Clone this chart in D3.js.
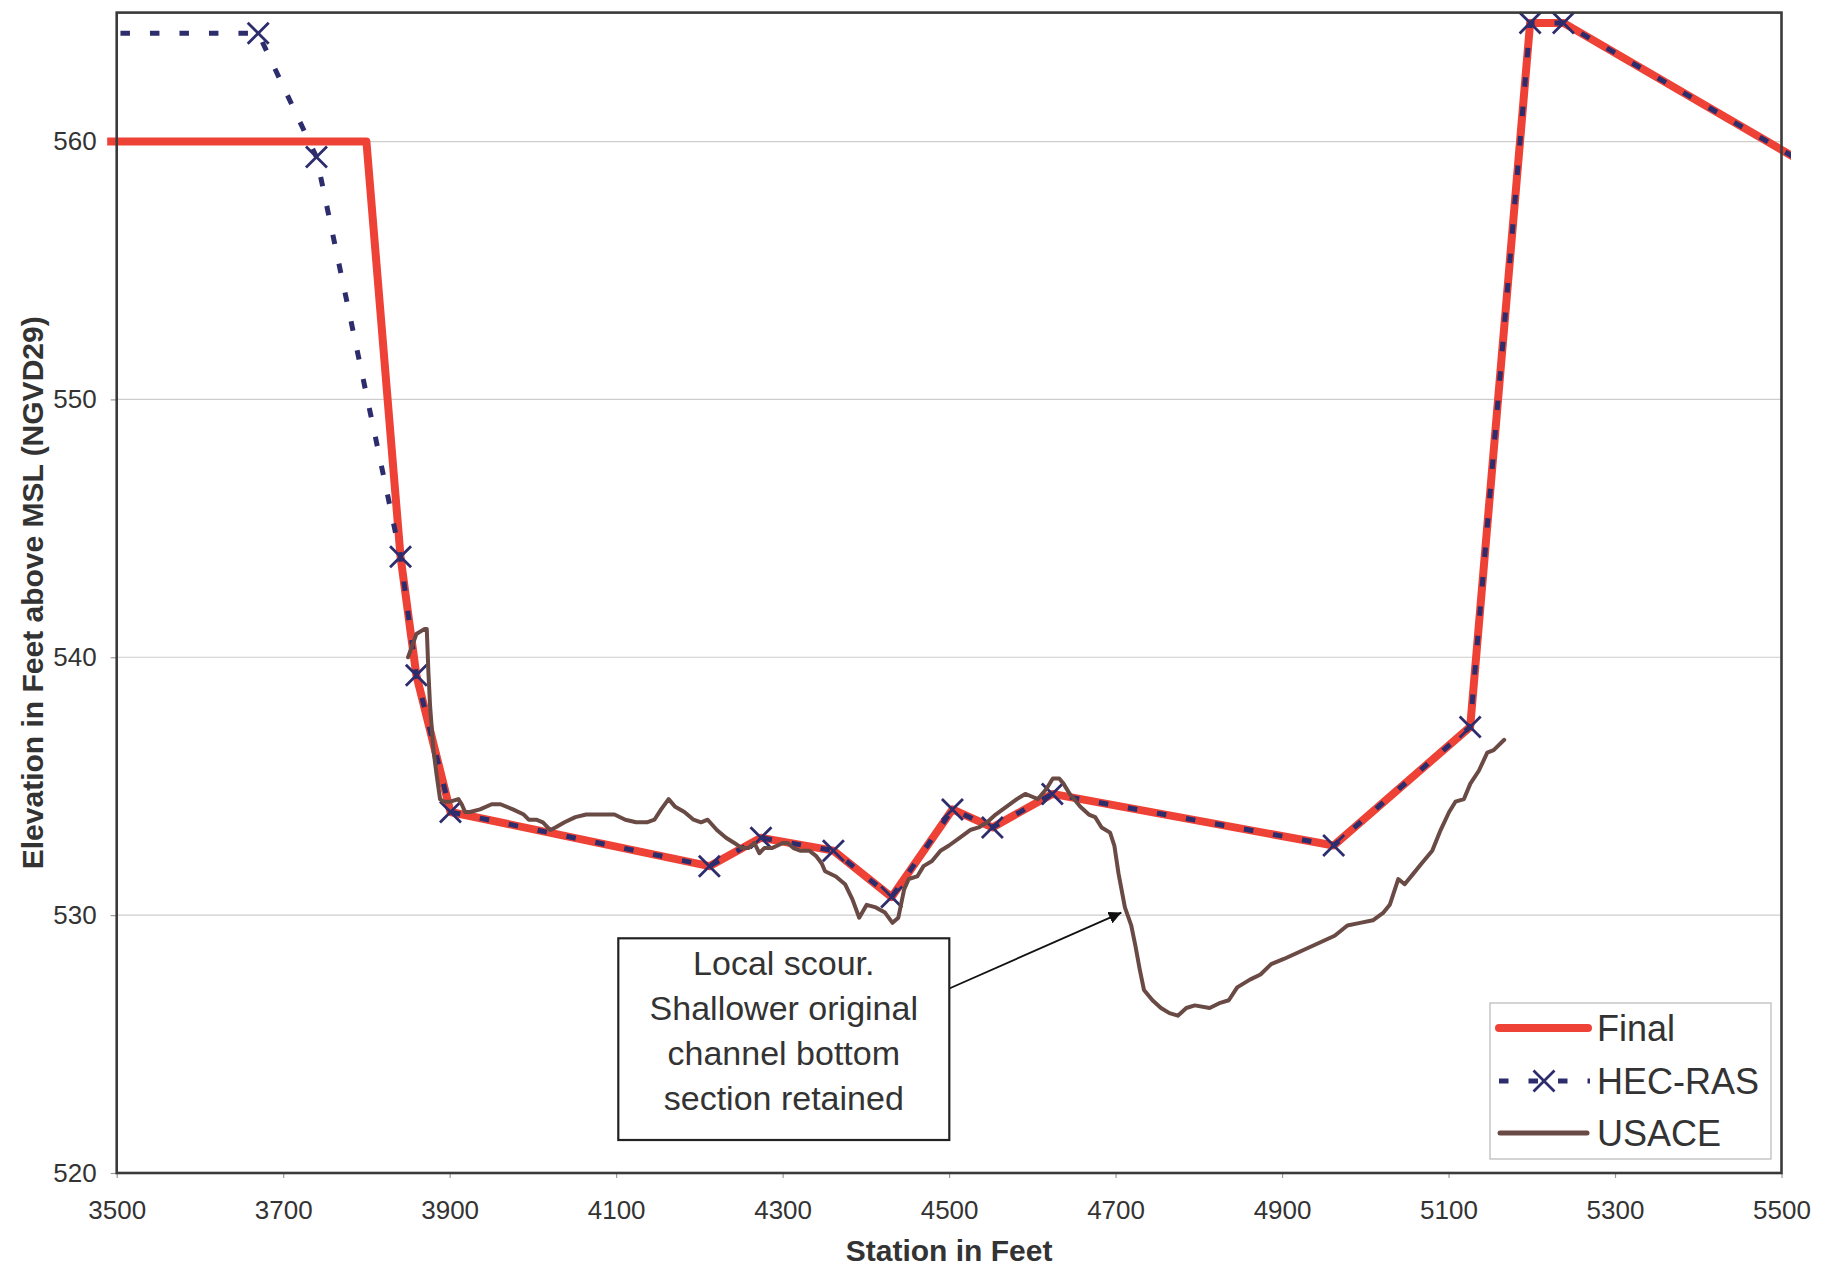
<!DOCTYPE html>
<html>
<head>
<meta charset="utf-8">
<script src="https://cdn.jsdelivr.net/npm/d3@7"></script>
<style>
  html, body { margin: 0; padding: 0; background: #ffffff; }
  svg { display: block; font-family: "Liberation Sans", Arial, sans-serif; }
</style>
</head>
<body>
<svg id="chart" width="1833" height="1266"></svg>
<script>
// ---------- DATA ----------
const xTicks = [3500, 3700, 3900, 4100, 4300, 4500, 4700, 4900, 5100, 5300, 5500];
const yTicks = [520, 530, 540, 550, 560];
const yGrid = [530, 540, 550, 560];

const seriesNames = ["Final", "HEC-RAS", "USACE"];

// HEC-RAS cross-section (station, elevation)
const hecStation = [3400, 3670, 3740, 3841, 3860, 3901, 4212, 4274, 4361, 4431, 4504, 4552, 4624, 4962, 5126, 5198, 5238, 5600];
const hecElev    = [564.2, 564.2, 559.4, 543.9, 539.3, 534.0, 531.9, 533.0, 532.5, 530.7, 534.1, 533.4, 534.7, 532.7, 537.3, 564.6, 564.6, 557.8];

// Final cross-section
const finalStation = [3400, 3800, 3841, 3860, 3901, 4212, 4274, 4361, 4431, 4504, 4552, 4624, 4962, 5126, 5198, 5238, 5600];
const finalElev    = [560.0, 560.0, 543.9, 539.3, 534.0, 531.9, 533.0, 532.5, 530.7, 534.1, 533.4, 534.7, 532.7, 537.3, 564.6, 564.6, 557.8];

// USACE survey
const usaceStation = [3850, 3860, 3870, 3872.5, 3874.5, 3876.5, 3880.5, 3884.5, 3888.5, 3892.5, 3900.5, 3910.5, 3914.5, 3918.5, 3924.5, 3936.5, 3950.5, 3961,
  3976, 3989, 3995, 4004, 4012, 4021, 4027, 4038, 4051, 4064, 4081, 4098, 4111, 4124, 4137, 4146, 4154, 4163, 4171, 4182, 4193, 4202, 4210,
  4221, 4232, 4242, 4251, 4259, 4266, 4272, 4278, 4287, 4294, 4300, 4306, 4313, 4321, 4332, 4340, 4347, 4351, 4364, 4375, 4384, 4392,
  4401, 4412, 4423, 4432, 4439, 4446, 4451.5, 4461.7, 4469.3, 4479.5, 4489.7, 4499.9, 4512.6, 4525.3, 4535.5, 4545.7, 4555.9, 4568.6,
  4581.4, 4591.5, 4599.2, 4606.8, 4617.0, 4624.6, 4632.3, 4637.4, 4645.0, 4650.1, 4657.7, 4667.9, 4675.5, 4683.2, 4693.4, 4698.5,
  4703.6, 4711.2, 4718.8, 4723.9, 4729.0, 4734.1, 4744.3, 4754.5, 4764.7, 4774.8, 4785.0, 4795.2, 4813.0, 4825.8, 4836.0, 4846.1,
  4861.4, 4874.1, 4886.9, 4902.1, 4922.5, 4942.9, 4963.2, 4978.5, 4993.8, 5009.1, 5021.8, 5029.4, 5039.6, 5047.3, 5057.5, 5067.6,
  5080.4, 5090.5, 5100.7, 5108.3, 5118.5, 5126.2, 5136.4, 5146.5, 5154.2, 5166.9];
const usaceElev = [540.0, 540.9, 541.1, 541.1, 539.4, 538.1, 536.4, 535.4, 534.5, 534.4, 534.4, 534.5, 534.3, 534.0, 534.0, 534.1, 534.3, 534.3,
  534.1, 533.9, 533.7, 533.7, 533.6, 533.3, 533.4, 533.6, 533.8, 533.9, 533.9, 533.9, 533.7, 533.6, 533.6, 533.7, 534.1, 534.5, 534.2, 534.0, 533.7, 533.6, 533.7,
  533.3, 533.0, 532.8, 532.6, 532.6, 532.8, 532.4, 532.6, 532.6, 532.7, 532.8, 532.8, 532.6, 532.5, 532.5, 532.3, 532.0, 531.7, 531.5, 531.2, 530.6, 529.9,
  530.4, 530.3, 530.1, 529.7, 529.9, 531.0, 531.4, 531.5, 531.9, 532.1, 532.5, 532.7, 533.0, 533.3, 533.4, 533.6, 533.9, 534.2,
  534.5, 534.7, 534.6, 534.5, 534.9, 535.3, 535.3, 535.1, 534.7, 534.5, 534.2, 533.9, 533.8, 533.4, 533.2, 532.7,
  531.6, 530.3, 529.6, 528.8, 527.9, 527.1, 526.7, 526.4, 526.2, 526.1, 526.4, 526.5, 526.4, 526.6, 526.7, 527.2,
  527.5, 527.7, 528.1, 528.3, 528.6, 528.9, 529.2, 529.6, 529.7, 529.8, 530.1, 530.4, 531.4, 531.2, 531.6, 532.0,
  532.5, 533.3, 534.0, 534.4, 534.5, 535.1, 535.6, 536.3, 536.4, 536.8];

const noteLines = ["Local scour.", "Shallower original", "channel bottom", "section retained"];
const notePoint = [4707, 530.1];   // arrow target (station, elevation)
const xTitle = "Station in Feet";
const yTitle = "Elevation in Feet above MSL (NGVD29)";

// ---------- STYLE ----------
const colFinal = "#ee4236";
const colHec = "#2d2d6e";
const colUsace = "#6a4a44";
const colText = "#333333";

// ---------- LAYOUT ----------
const svg = d3.select("#chart");
const pLeft = 116.7, pRight = 1781.5, pTop = 12.6, pBottom = 1173;

const x = d3.scaleLinear().domain([3500, 5500]).range([pLeft, pRight]);
const y = d3.scaleLinear().domain([520, 565]).range([pBottom, pTop]);

svg.append("rect").attr("width", 1833).attr("height", 1266).attr("fill", "#fff");

// gridlines
svg.append("g").selectAll("line").data(yGrid).join("line")
  .attr("x1", pLeft).attr("x2", pRight)
  .attr("y1", d => y(d)).attr("y2", d => y(d))
  .attr("stroke", "#cdcdcd").attr("stroke-width", 1.2);

// axes
const yAxis = d3.axisLeft(y).tickValues(yTicks).tickSize(6).tickPadding(14).tickFormat(d3.format("d"));
const gy = svg.append("g").attr("transform", `translate(${pLeft},0)`).call(yAxis);
gy.select(".domain").remove();
gy.selectAll(".tick line").attr("stroke", "#999").attr("stroke-width", 1.2);
gy.selectAll("text").attr("font-size", 26).attr("fill", colText)
  .attr("font-family", "'Liberation Sans', Arial, sans-serif");

const xAxis = d3.axisBottom(x).tickValues(xTicks).tickSize(5).tickPadding(23).tickFormat(d3.format("d"));
const gx = svg.append("g").attr("transform", `translate(0,${pBottom})`).call(xAxis);
gx.select(".domain").remove();
gx.selectAll(".tick line").attr("stroke", "#999").attr("stroke-width", 1.2);
gx.selectAll("text").attr("font-size", 26).attr("fill", colText)
  .attr("font-family", "'Liberation Sans', Arial, sans-serif");

// clip (lines spill slightly beyond the plot frame as in the reference)
svg.append("clipPath").attr("id", "clip").append("rect")
  .attr("x", pLeft - 9.5).attr("y", 0).attr("width", pRight - pLeft + 19).attr("height", pBottom);

const line = d3.line().x(d => x(d[0])).y(d => y(d[1]));
const finalData = finalStation.map((s, i) => [s, finalElev[i]]);
const hecData = hecStation.map((s, i) => [s, hecElev[i]]);
const usaceData = usaceStation.map((s, i) => [s, usaceElev[i]]);

const plot = svg.append("g").attr("clip-path", "url(#clip)");
plot.append("path").datum(finalData).attr("d", line)
  .attr("fill", "none").attr("stroke", colFinal).attr("stroke-width", 8)
  .attr("stroke-linejoin", "round");
plot.append("path").datum(hecData).attr("d", line)
  .attr("fill", "none").attr("stroke", colHec).attr("stroke-width", 5)
  .attr("stroke-dasharray", "9.5,20").attr("stroke-dashoffset", 1.5)
  .attr("stroke-linejoin", "round");

// HEC-RAS X markers (only points inside the axis range)
const ms = 10.5;
const xMark = (cx, cy, s) => `M${cx - s},${cy - s}L${cx + s},${cy + s}M${cx - s},${cy + s}L${cx + s},${cy - s}`;
plot.append("g").selectAll("path").data(hecData.filter(d => d[0] >= 3500 && d[0] <= 5500)).join("path")
  .attr("d", d => xMark(x(d[0]), y(d[1]), ms))
  .attr("stroke", colHec).attr("stroke-width", 2.8).attr("fill", "none");

plot.append("path").datum(usaceData).attr("d", line)
  .attr("fill", "none").attr("stroke", colUsace).attr("stroke-width", 4)
  .attr("stroke-linejoin", "round").attr("stroke-linecap", "round");

// frame
svg.append("rect").attr("x", pLeft).attr("y", pTop).attr("width", pRight - pLeft).attr("height", pBottom - pTop)
  .attr("fill", "none").attr("stroke", "#3a3a3a").attr("stroke-width", 2.6);

// axis titles
svg.append("text").attr("x", (pLeft + pRight) / 2).attr("y", 1261)
  .attr("text-anchor", "middle").attr("font-weight", "bold").attr("font-size", 30)
  .attr("fill", colText).text(xTitle);
svg.append("text").attr("transform", `translate(42.5,${(pTop + pBottom) / 2}) rotate(-90)`)
  .attr("text-anchor", "middle").attr("font-weight", "bold").attr("font-size", 30)
  .attr("fill", colText).text(yTitle);

// annotation box + arrow
const boxX = 618.3, boxY = 938.3, boxW = 331, boxH = 201.7;
svg.append("defs").append("marker").attr("id", "arrow")
  .attr("viewBox", "0 0 10 10").attr("refX", 10).attr("refY", 5)
  .attr("markerWidth", 7).attr("markerHeight", 7).attr("markerUnits", "strokeWidth")
  .attr("orient", "auto")
  .append("path").attr("d", "M0,0L10,5L0,10Z").attr("fill", "#111");
svg.append("line").attr("x1", boxX + boxW).attr("y1", 988.5)
  .attr("x2", x(notePoint[0])).attr("y2", y(notePoint[1]))
  .attr("stroke", "#111").attr("stroke-width", 1.8).attr("marker-end", "url(#arrow)");
svg.append("rect").attr("x", boxX).attr("y", boxY).attr("width", boxW).attr("height", boxH)
  .attr("fill", "#fff").attr("stroke", "#222").attr("stroke-width", 2.2);
svg.append("g").selectAll("text").data(noteLines).join("text")
  .attr("x", boxX + boxW / 2).attr("y", (d, i) => 975 + i * 45)
  .attr("text-anchor", "middle").attr("font-size", 34).attr("fill", colText).text(d => d);

// legend
const lg = svg.append("g");
lg.append("rect").attr("x", 1490).attr("y", 1003).attr("width", 281).attr("height", 156)
  .attr("fill", "#fff").attr("stroke", "#bdbdbd").attr("stroke-width", 1.3);
const rowY = [1028, 1081, 1133];
lg.append("line").attr("x1", 1499).attr("x2", 1588).attr("y1", rowY[0]).attr("y2", rowY[0])
  .attr("stroke", colFinal).attr("stroke-width", 8).attr("stroke-linecap", "round");
lg.append("line").attr("x1", 1499).attr("x2", 1590).attr("y1", rowY[1]).attr("y2", rowY[1])
  .attr("stroke", colHec).attr("stroke-width", 5).attr("stroke-dasharray", "9.5,20");
lg.append("path").attr("d", xMark(1544, rowY[1], ms)).attr("stroke", colHec).attr("stroke-width", 2.8);
lg.append("line").attr("x1", 1500).attr("x2", 1587).attr("y1", rowY[2]).attr("y2", rowY[2])
  .attr("stroke", colUsace).attr("stroke-width", 5).attr("stroke-linecap", "round");
lg.selectAll("text.lab").data(seriesNames).join("text").attr("class", "lab")
  .attr("x", 1597).attr("y", (d, i) => rowY[i] + 13)
  .attr("font-size", 36).attr("fill", colText).text(d => d);
</script>
</body>
</html>
